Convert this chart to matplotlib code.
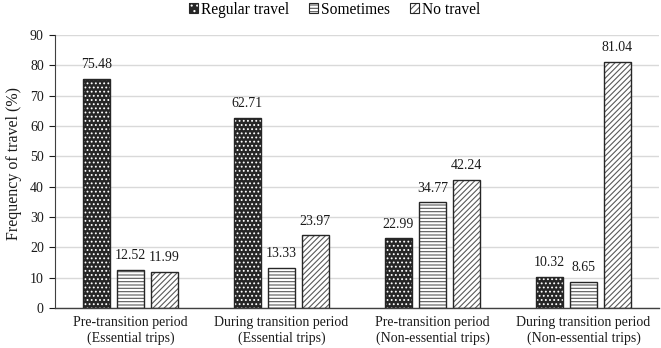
import matplotlib
matplotlib.use("Agg")
import matplotlib.pyplot as plt
from matplotlib.patches import Patch
from matplotlib.legend_handler import HandlerTuple
import numpy as np

categories = ["Pre-transition period\n(Essential trips)",
              "During transition period\n(Essential trips)",
              "Pre-transition period\n(Non-essential trips)",
              "During transition period\n(Non-essential trips)"]
series_names = ["Regular travel", "Sometimes", "No travel"]
regular = [75.48, 62.71, 22.99, 10.32]
sometimes = [12.52, 13.33, 34.77, 8.65]
no_travel = [11.99, 23.97, 42.24, 81.04]
yticks = [0, 10, 20, 30, 40, 50, 60, 70, 80, 90]

plt.rcParams['font.family'] = ['Liberation Serif', 'DejaVu Serif']
plt.rcParams['hatch.linewidth'] = 0.8

fig = plt.figure(figsize=(6.61, 3.48), dpi=100)
ax = fig.add_axes([0.083, 0.115, 0.914, 0.785])

x = np.arange(len(categories))
w = 0.178
step = 0.225
dark = "#262626"
edge = "#262626"
lc = "#595959"

# Regular travel: dark fill with white dots
ax.bar(x - step, regular, w, color=dark, edgecolor="white", hatch="....", linewidth=0, zorder=2)
ax.bar(x - step, regular, w, fill=False, edgecolor=edge, linewidth=1.0, zorder=3)
# Sometimes: horizontal lines
ax.bar(x, sometimes, w, color="white", edgecolor=lc, hatch="-----", linewidth=0, zorder=2)
ax.bar(x, sometimes, w, fill=False, edgecolor=edge, linewidth=1.0, zorder=3)
# No travel: diagonal lines
ax.bar(x + step, no_travel, w, color="white", edgecolor=lc, hatch="//////", linewidth=0, zorder=2)
ax.bar(x + step, no_travel, w, fill=False, edgecolor=edge, linewidth=1.0, zorder=3)

for off, vals in zip([-step, 0, step], [regular, sometimes, no_travel]):
    for xi, v in zip(x, vals):
        ax.text(xi + off, v + 2.5, f"{v:.2f}", ha="center", va="bottom", fontsize=10, color="#1a1a1a")

ax.set_xlim(-0.5, 3.5)
ax.set_ylim(0, 90)
ax.set_yticks(yticks)
ax.set_xticks(x)
ax.set_xticklabels(categories, fontsize=10, color="#1a1a1a")
ax.tick_params(axis='y', labelsize=10, colors="#1a1a1a", length=4, width=0.8, direction='out', pad=4)
ax.tick_params(axis='x', length=0, pad=6)
ax.yaxis.grid(True, color="#d9d9d9", linewidth=1.0, zorder=0)
ax.set_axisbelow(True)
for s in ["top", "right"]:
    ax.spines[s].set_visible(False)
ax.spines["left"].set_color("#404040")
ax.spines["left"].set_linewidth(0.8)
ax.spines["bottom"].set_color("#404040")
ax.spines["bottom"].set_linewidth(1.0)
ax.set_ylabel("Frequency of travel (%)", fontsize=11.5, color="#1a1a1a")
ax.yaxis.set_label_coords(-0.054, 0.53)

h1 = (Patch(facecolor=dark, edgecolor="white", hatch="...", linewidth=0),
      Patch(fill=False, edgecolor=edge, linewidth=0.8))
h2 = (Patch(facecolor="white", edgecolor=lc, hatch="-----", linewidth=0),
      Patch(fill=False, edgecolor=edge, linewidth=0.8))
h3 = (Patch(facecolor="white", edgecolor=lc, hatch="/////", linewidth=0),
      Patch(fill=False, edgecolor=edge, linewidth=0.8))
fig.legend([h1, h2, h3], series_names, loc="upper center", bbox_to_anchor=(0.506, 1.035), ncol=3,
           frameon=False, fontsize=11.2, handlelength=0.6, handleheight=0.6, handletextpad=0.15,
           columnspacing=1.3, handler_map={tuple: HandlerTuple(ndivide=1, pad=0)})

fig.savefig("out.png", dpi=100)
